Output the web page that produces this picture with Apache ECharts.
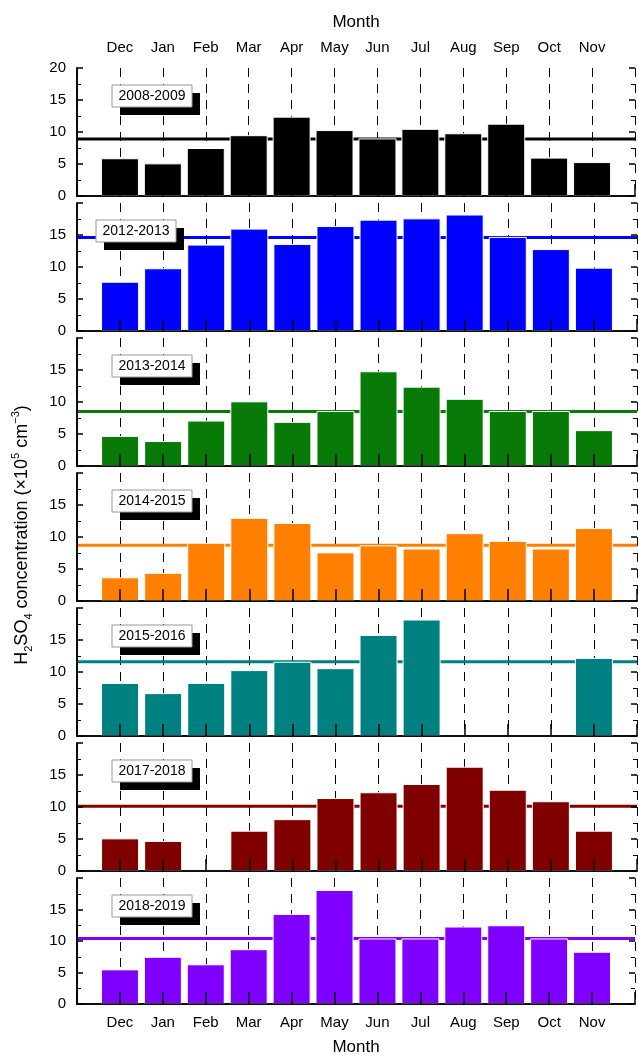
<!DOCTYPE html>
<html>
<head>
<meta charset="utf-8">
<title>H2SO4 monthly</title>
<script src="https://cdn.jsdelivr.net/npm/echarts@6/dist/echarts.min.js"></script>
<style>
  html, body { margin: 0; padding: 0; background: #fff; }
  #chart { width: 638px; height: 1057px; }
</style>
</head>
<body>
<div id="chart"></div>
<script>
// data
const months = ['Dec', 'Jan', 'Feb', 'Mar', 'Apr', 'May', 'Jun', 'Jul', 'Aug', 'Sep', 'Oct', 'Nov'];
const periods = ['2008-2009', '2012-2013', '2013-2014', '2014-2015', '2015-2016', '2017-2018', '2018-2019'];
const v0809 = [5.9, 5.1, 7.5, 9.5, 12.4, 10.3, 9.0, 10.5, 9.8, 11.3, 6.0, 5.3];
const v1213 = [7.7, 9.8, 13.5, 16.0, 13.6, 16.4, 17.4, 17.6, 18.2, 14.7, 12.8, 9.9];
const v1314 = [4.7, 3.9, 7.1, 10.1, 6.9, 8.6, 14.8, 12.4, 10.5, 8.6, 8.6, 5.6];
const v1415 = [3.7, 4.4, 9.1, 13.0, 12.2, 7.6, 8.7, 8.2, 10.6, 9.4, 8.2, 11.4];
const v1516 = [8.3, 6.7, 8.3, 10.3, 11.6, 10.6, 15.8, 18.2, null, null, null, 12.2];
const v1718 = [5.1, 4.7, null, 6.3, 8.1, 11.4, 12.3, 13.6, 16.3, 12.7, 10.9, 6.3];
const v1819 = [5.5, 7.5, 6.3, 8.7, 14.3, 18.1, 10.4, 10.4, 12.3, 12.5, 10.4, 8.3];
const means = [8.9, 14.6, 8.5, 8.7, 11.6, 10.1, 10.4];
const yTicks = [0, 5, 10, 15, 20];

const values = [v0809, v1213, v1314, v1415, v1516, v1718, v1819];
const colors = ['#000000', '#0000ff', '#087a08', '#ff8000', '#008080', '#800000', '#8000ff'];

const FONT = 'Liberation Sans';
const LEFT = 77, WIDTH = 560, TOP = 68, STEP = 135, HEIGHT = 128;
const TICK = 6, MINOR = 4;

let myChart = echarts.init(document.getElementById('chart'));

let grids = [], xAxes = [], yAxes = [], series = [], graphics = [];

let monthLabel = function (v) { return (v >= 1 && v <= 12) ? months[v - 1] : ''; };

// axis that only draws ticks; pulled inside the box by its offset so the
// outward ticks end on the frame
let xTickAxis = function (k, pos) {
  return {
    type: 'value', gridIndex: k, position: pos, offset: -TICK, min: 0, max: 13, interval: 1, z: 5,
    axisLine: { show: false }, axisLabel: { show: false }, splitLine: { show: false },
    axisTick: { show: true, length: TICK, lineStyle: { color: '#000', width: 1.5 } }
  };
};
let yTickAxis = function (k, pos, minor) {
  return {
    type: 'value', gridIndex: k, position: pos, offset: -(minor ? MINOR : TICK), min: 0, max: 20, interval: 5, z: 5,
    axisLine: { show: false }, axisLabel: { show: false }, splitLine: { show: false },
    axisTick: { show: !minor, length: TICK, lineStyle: { color: '#000', width: 1.5 } },
    minorTick: { show: minor, splitNumber: 2, length: MINOR, lineStyle: { color: '#000', width: 1 } }
  };
};

for (let k = 0; k < 7; k++) {
  let top = TOP + STEP * k;
  grids.push({ left: LEFT, top: top, width: WIDTH, height: HEIGHT, show: false });

  // top frame + dashed month lines (under the bars)
  xAxes.push({
    type: 'value', gridIndex: k, position: 'top', min: 0, max: 13, interval: 1, z: 0,
    axisLine: { show: true, lineStyle: { color: '#000', width: 1.5 } },
    axisTick: { show: false },
    axisLabel: k === 0 ? { show: true, formatter: monthLabel, color: '#000', fontFamily: FONT, fontSize: 15, margin: 13 } : { show: false },
    splitLine: { show: true, lineStyle: { color: '#000', width: 1, type: [9, 7] } },
    name: k === 0 ? 'Month' : '',
    nameLocation: 'middle', nameGap: 37,
    nameTextStyle: { color: '#000', fontFamily: FONT, fontSize: 17 }
  });
  let xBottom = xAxes.length;
  xAxes.push({
    type: 'value', gridIndex: k, position: 'bottom', min: 0, max: 13, interval: 1, z: 5,
    axisLine: { show: true, lineStyle: { color: '#000', width: 1.5 } },
    axisTick: { show: false },
    axisLabel: k === 6 ? { show: true, formatter: monthLabel, color: '#000', fontFamily: FONT, fontSize: 15, margin: 11 } : { show: false },
    splitLine: { show: false },
    name: k === 6 ? 'Month' : '',
    nameLocation: 'middle', nameGap: 35,
    nameTextStyle: { color: '#000', fontFamily: FONT, fontSize: 17 }
  });
  xAxes.push(xTickAxis(k, 'top'));
  xAxes.push(xTickAxis(k, 'bottom'));

  let yLeft = yAxes.length;
  yAxes.push({
    type: 'value', gridIndex: k, position: 'left', min: 0, max: 20, interval: 5, z: 5,
    axisLine: { show: true, lineStyle: { color: '#000', width: 1.5 } },
    axisTick: { show: false },
    axisLabel: {
      color: '#000', fontFamily: FONT, fontSize: 15, margin: 11,
      showMaxLabel: k === 0,
      formatter: function (v) { return yTicks.indexOf(v) >= 0 ? String(v) : ''; }
    },
    splitLine: { show: false }
  });
  yAxes.push({
    type: 'value', gridIndex: k, position: 'right', min: 0, max: 20, interval: 5, z: 5,
    axisLine: { show: true, lineStyle: { color: '#000', width: 1.5 } },
    axisTick: { show: false }, axisLabel: { show: false }, splitLine: { show: false }
  });
  yAxes.push(yTickAxis(k, 'left', false));
  yAxes.push(yTickAxis(k, 'left', true));
  yAxes.push(yTickAxis(k, 'right', false));
  yAxes.push(yTickAxis(k, 'right', true));

  let data = [];
  values[k].forEach(function (v, i) { if (v !== null) data.push([i + 1, v]); });

  series.push({
    name: periods[k], type: 'bar', xAxisIndex: xBottom, yAxisIndex: yLeft,
    data: data, barWidth: 38, z: 2,
    itemStyle: { color: colors[k], borderColor: '#fff', borderWidth: 1 }
  });
  series.push({
    name: periods[k] + ' mean', type: 'line', xAxisIndex: xBottom, yAxisIndex: yLeft,
    data: [[0, means[k]], [13, means[k]]], z: 1, symbol: 'none', silent: true,
    lineStyle: { color: colors[k], width: 3 }
  });

  // period label box with offset shadow
  let bx = k === 1 ? 96 : 112;
  let by = top + 17;
  graphics.push({ type: 'rect', shape: { x: bx + 8, y: by + 8, width: 80, height: 22 }, style: { fill: '#000' }, z: 10 });
  graphics.push({ type: 'rect', shape: { x: bx, y: by, width: 80, height: 22 }, style: { fill: '#fff', stroke: '#999', lineWidth: 1 }, z: 11 });
  graphics.push({
    type: 'text', x: bx + 40, y: by + 11, z: 12,
    style: { text: periods[k], fill: '#000', font: '14px "' + FONT + '"', align: 'center', verticalAlign: 'middle' }
  });
}

// y axis title
graphics.push({
  type: 'text', x: 22, y: 535, rotation: Math.PI / 2, z: 12,
  style: {
    text: '{n|H}{s|2}{n|SO}{s|4}{n| concentration (×10}{p|5}{n| cm}{p|−3}{n|)}',
    align: 'center', verticalAlign: 'middle',
    rich: {
      n: { fontFamily: FONT, fontSize: 18, color: '#000', lineHeight: 24, verticalAlign: 'middle' },
      s: { fontFamily: FONT, fontSize: 11, color: '#000', lineHeight: 24, verticalAlign: 'bottom' },
      p: { fontFamily: FONT, fontSize: 11, color: '#000', lineHeight: 24, verticalAlign: 'top' }
    }
  }
});

let option = {
  backgroundColor: '#fff',
  animation: false,
  grid: grids,
  xAxis: xAxes,
  yAxis: yAxes,
  series: series,
  graphic: graphics
};

myChart.setOption(option);
</script>
</body>
</html>
